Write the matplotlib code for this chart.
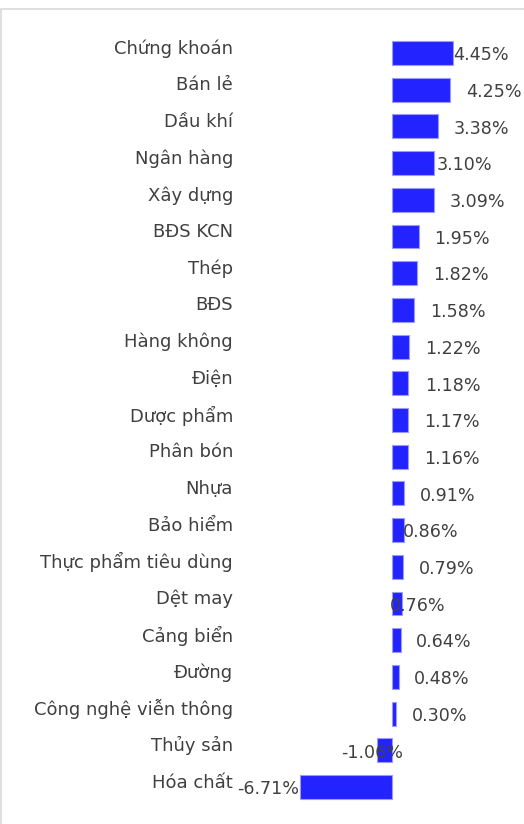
import matplotlib
matplotlib.use("Agg")
import matplotlib.pyplot as plt
from matplotlib.patches import Rectangle
import matplotlib.transforms as mtransforms

categories = ["Chứng khoán", "Bán lẻ", "Dầu khí", "Ngân hàng", "Xây dựng",
              "BĐS KCN", "Thép", "BĐS", "Hàng không", "Điện", "Dược phẩm",
              "Phân bón", "Nhựa", "Bảo hiểm", "Thực phẩm tiêu dùng", "Dệt may",
              "Cảng biển", "Đường", "Công nghệ viễn thông", "Thủy sản", "Hóa chất"]
values = [4.45, 4.25, 3.38, 3.10, 3.09, 1.95, 1.82, 1.58, 1.22, 1.18, 1.17,
          1.16, 0.91, 0.86, 0.79, 0.76, 0.64, 0.48, 0.30, -1.06, -6.71]
value_labels = ["4.45%", "4.25%", "3.38%", "3.10%", "3.09%", "1.95%", "1.82%",
                "1.58%", "1.22%", "1.18%", "1.17%", "1.16%", "0.91%", "0.86%",
                "0.79%", "0.76%", "0.64%", "0.48%", "0.30%", "-1.06%", "-6.71%"]
# left edge of each value label, in data units (as placed in the original)
label_left = [4.45, 5.40, 4.53, 3.28, 4.23, 3.07, 2.99, 2.77, 2.41, 2.41, 2.34,
              2.34, 2.04, 0.80, 1.97, -0.15, 1.75, 1.61, 1.46, -3.72, -11.30]

W, H = 524, 824
fig = plt.figure(figsize=(W / 100, H / 100), dpi=100)
fig.patch.set_facecolor("white")

# light border of the chart area
fig.patches.append(Rectangle((1 / W, -0.05), 1.5, 1 - 9 / H + 0.05,
                             transform=fig.transFigure, fill=False,
                             edgecolor="#d9d9d9", linewidth=1.2))

ax_left, ax_right, ax_top, ax_bottom = 236, 524, 20, 810
ax = fig.add_axes([ax_left / W, 1 - ax_bottom / H,
                   (ax_right - ax_left) / W, (ax_bottom - ax_top) / H])
ax.set_facecolor("none")

zero_px, ppu = 392, 13.7
ax.set_xlim((ax_left - zero_px) / ppu, (ax_right - zero_px) / ppu)
y0, step = 53, 36.7
ax.set_ylim((ax_bottom - y0) / step, (ax_top - y0) / step)

ypos = list(range(len(categories)))
ax.barh(ypos, values, height=0.65, color="#2323ff", edgecolor="#9a9aff",
        linewidth=0.8)

for y, lab, lx in zip(ypos, value_labels, label_left):
    ax.text(lx, y + 0.06, lab, ha="left", va="center", fontsize=12.6,
            color="#404040", family="DejaVu Sans")

trans = mtransforms.blended_transform_factory(fig.transFigure, ax.transData)
for y, cat in zip(ypos, categories):
    ax.text(233 / W, y - 0.12, cat, ha="right", va="center", fontsize=13,
            color="#404040", family="DejaVu Sans", transform=trans)

ax.set_xticks([])
ax.set_yticks([])
for s in ax.spines.values():
    s.set_visible(False)

fig.savefig("out.png", dpi=100)
